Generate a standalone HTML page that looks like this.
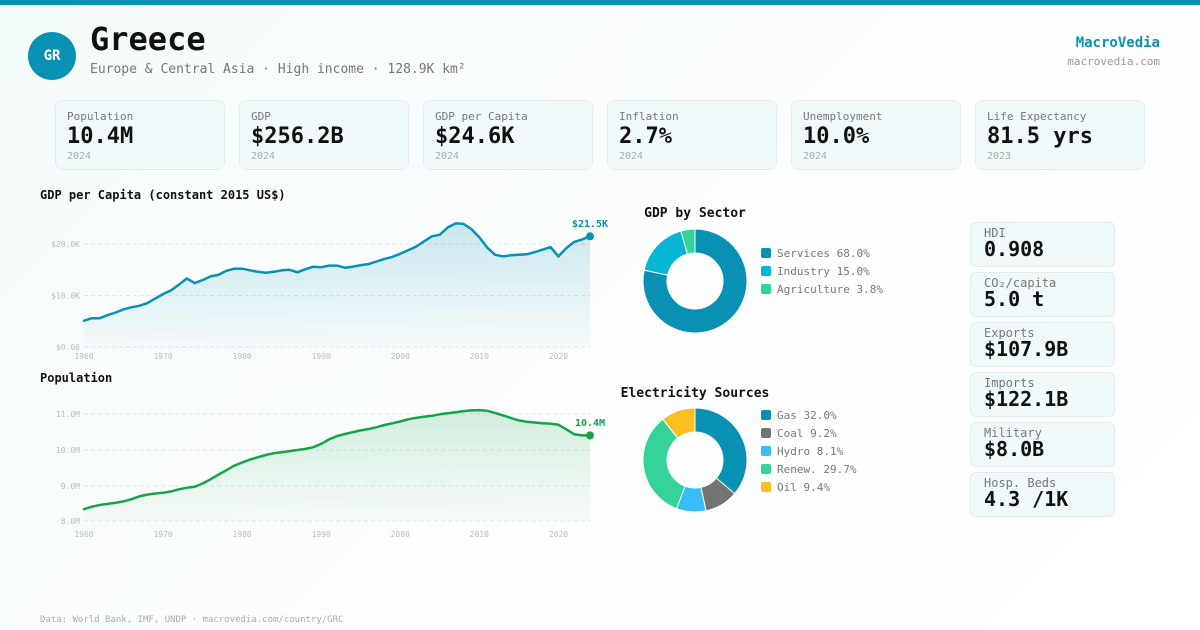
<!DOCTYPE html>
<html><head><meta charset="utf-8"><style>
*{margin:0;padding:0;box-sizing:border-box}
body{width:1200px;height:630px;overflow:hidden;font-family:"DejaVu Sans Mono","Liberation Mono",monospace;background:linear-gradient(135deg,#f4fbfb 0%,#fbfdfd 45%,#ffffff 100%);position:relative}
.bar{position:absolute;left:0;top:0;width:1200px;height:5px;background:#0891b2}
.abs{position:absolute;white-space:nowrap}
.logo{position:absolute;left:28px;top:32px;width:48px;height:48px;border-radius:50%;background:#0891b2;color:#fff;font-weight:bold;font-size:14px;line-height:48px;text-align:center}
.card{position:absolute;top:100px;width:170px;height:70px;background:#f0fafa;border:1px solid #e2eeee;border-radius:8px}
.card .l{position:absolute;left:11px;top:10px;font-size:11px;line-height:11px;color:#777}
.card .v{position:absolute;left:11px;top:25px;font-size:22px;line-height:22px;font-weight:bold;color:#111}
.card .y{position:absolute;left:11px;top:51px;font-size:10px;line-height:10px;color:#aaa}
.rc{position:absolute;left:970px;width:145px;height:45px;background:#f0fafa;border:1px solid #e2eeee;border-radius:6px}
.rc .l{position:absolute;left:13px;top:4px;font-size:12px;line-height:12px;color:#777}
.rc .v{position:absolute;left:13px;top:16px;font-size:20px;line-height:20px;font-weight:bold;color:#111}
</style></head><body>
<div class="bar"></div>
<div class="logo">GR</div>
<div class="abs" style="left:90px;top:23px;font-size:32px;line-height:32px;font-weight:bold;color:#111">Greece</div>
<div class="abs" style="left:90px;top:63px;font-size:13px;line-height:13px;color:#777">Europe &amp; Central Asia · High income · 128.9K km²</div>
<div class="abs" style="right:40px;top:36px;font-size:14px;line-height:14px;font-weight:bold;color:#0891b2">MacroVedia</div>
<div class="abs" style="right:40px;top:56px;font-size:11px;line-height:11px;color:#999">macrovedia.com</div>

<div class="card" style="left:55px"><div class="l">Population</div><div class="v">10.4M</div><div class="y">2024</div></div>
<div class="card" style="left:239px"><div class="l">GDP</div><div class="v">$256.2B</div><div class="y">2024</div></div>
<div class="card" style="left:423px"><div class="l">GDP per Capita</div><div class="v">$24.6K</div><div class="y">2024</div></div>
<div class="card" style="left:607px"><div class="l">Inflation</div><div class="v">2.7%</div><div class="y">2024</div></div>
<div class="card" style="left:791px"><div class="l">Unemployment</div><div class="v">10.0%</div><div class="y">2024</div></div>
<div class="card" style="left:975px"><div class="l">Life Expectancy</div><div class="v">81.5 yrs</div><div class="y">2023</div></div>

<div class="rc" style="top:222px"><div class="l">HDI</div><div class="v">0.908</div></div>
<div class="rc" style="top:272px"><div class="l">CO₂/capita</div><div class="v">5.0 t</div></div>
<div class="rc" style="top:322px"><div class="l">Exports</div><div class="v">$107.9B</div></div>
<div class="rc" style="top:372px"><div class="l">Imports</div><div class="v">$122.1B</div></div>
<div class="rc" style="top:422px"><div class="l">Military</div><div class="v">$8.0B</div></div>
<div class="rc" style="top:472px"><div class="l">Hosp. Beds</div><div class="v">4.3 /1K</div></div>

<svg class="abs" style="left:0;top:0" width="1200" height="630" xmlns="http://www.w3.org/2000/svg" font-family="DejaVu Sans Mono, Liberation Mono, monospace">
<defs>
<linearGradient id="gb" x1="0" y1="0" x2="0" y2="1"><stop offset="0" stop-color="#0891b2" stop-opacity="0.2"/><stop offset="1" stop-color="#0891b2" stop-opacity="0.02"/></linearGradient>
<linearGradient id="gg" x1="0" y1="0" x2="0" y2="1"><stop offset="0" stop-color="#16a34a" stop-opacity="0.18"/><stop offset="1" stop-color="#16a34a" stop-opacity="0.02"/></linearGradient>
</defs>
<text x="40" y="199" font-size="12" font-weight="bold" fill="#111">GDP per Capita (constant 2015 US$)</text>
<g stroke="#e3e6e8" stroke-width="1" stroke-dasharray="4 3">
<line x1="84" y1="244" x2="590" y2="244"/><line x1="84" y1="295.5" x2="590" y2="295.5"/><line x1="84" y1="347" x2="590" y2="347"/>
</g>
<g font-size="8" fill="#bbb" text-anchor="end">
<text x="80" y="247">$20.0K</text><text x="80" y="298.5">$10.0K</text><text x="80" y="350">$0.00</text>
</g>
<g font-size="8" fill="#bbb" text-anchor="middle">
<text x="84" y="359">1960</text><text x="163.1" y="359">1970</text><text x="242.1" y="359">1980</text><text x="321.2" y="359">1990</text><text x="400.2" y="359">2000</text><text x="479.3" y="359">2010</text><text x="558.4" y="359">2020</text>
</g>
<path fill="url(#gb)" d="M84,347 L84,320.7 91.9,318.2 99.8,318.2 107.7,315.1 115.6,312.5 123.5,309.4 131.4,307.3 139.3,305.8 147.2,303.2 155.2,298.6 163.1,294 171,290.4 178.9,284.7 186.8,278.5 194.7,283.1 202.6,280.1 210.5,276.4 218.4,274.9 226.3,270.8 234.2,268.7 242.1,268.7 250,270.3 257.9,271.8 265.8,272.8 273.7,271.8 281.7,270.3 289.6,269.8 297.5,272.3 305.4,269.2 313.3,266.7 321.2,267.2 329.1,265.6 337,265.6 344.9,267.7 352.8,266.7 360.7,265.1 368.6,264.1 376.5,261.5 384.4,258.9 392.3,256.9 400.2,253.8 408.1,250.2 416.1,246.6 424,241.4 431.9,236.3 439.8,234.7 447.7,227.5 455.6,223.4 463.5,223.9 471.4,229.1 479.3,237.3 487.2,247.6 495.1,254.8 503,256.4 510.9,255.3 518.8,254.8 526.7,254.3 534.6,252.2 542.5,249.7 550.5,247.1 558.4,256.4 566.3,248.1 574.2,241.9 582.1,239.4 590,236.3 L590,347 Z"/>
<polyline fill="none" stroke="#0891b2" stroke-width="2.5" stroke-linejoin="round" stroke-linecap="round" points="84,320.7 91.9,318.2 99.8,318.2 107.7,315.1 115.6,312.5 123.5,309.4 131.4,307.3 139.3,305.8 147.2,303.2 155.2,298.6 163.1,294 171,290.4 178.9,284.7 186.8,278.5 194.7,283.1 202.6,280.1 210.5,276.4 218.4,274.9 226.3,270.8 234.2,268.7 242.1,268.7 250,270.3 257.9,271.8 265.8,272.8 273.7,271.8 281.7,270.3 289.6,269.8 297.5,272.3 305.4,269.2 313.3,266.7 321.2,267.2 329.1,265.6 337,265.6 344.9,267.7 352.8,266.7 360.7,265.1 368.6,264.1 376.5,261.5 384.4,258.9 392.3,256.9 400.2,253.8 408.1,250.2 416.1,246.6 424,241.4 431.9,236.3 439.8,234.7 447.7,227.5 455.6,223.4 463.5,223.9 471.4,229.1 479.3,237.3 487.2,247.6 495.1,254.8 503,256.4 510.9,255.3 518.8,254.8 526.7,254.3 534.6,252.2 542.5,249.7 550.5,247.1 558.4,256.4 566.3,248.1 574.2,241.9 582.1,239.4 590,236.3"/>
<circle cx="590" cy="236.3" r="4" fill="#0891b2"/>
<text x="590" y="227" font-size="10" font-weight="bold" fill="#0891b2" text-anchor="middle">$21.5K</text>

<text x="40" y="382" font-size="12" font-weight="bold" fill="#111">Population</text>
<g stroke="#e3e6e8" stroke-width="1" stroke-dasharray="4 3">
<line x1="84" y1="414" x2="590" y2="414"/><line x1="84" y1="450" x2="590" y2="450"/><line x1="84" y1="486" x2="590" y2="486"/><line x1="84" y1="521" x2="590" y2="521"/>
</g>
<g font-size="8" fill="#bbb" text-anchor="end">
<text x="80" y="417">11.0M</text><text x="80" y="453">10.0M</text><text x="80" y="489">9.0M</text><text x="80" y="524">8.0M</text>
</g>
<g font-size="8" fill="#bbb" text-anchor="middle">
<text x="84" y="537">1960</text><text x="163.1" y="537">1970</text><text x="242.1" y="537">1980</text><text x="321.2" y="537">1990</text><text x="400.2" y="537">2000</text><text x="479.3" y="537">2010</text><text x="558.4" y="537">2020</text>
</g>
<path fill="url(#gg)" d="M84,521 L84,509.2 91.9,506.7 99.8,505 107.7,503.9 115.6,502.8 123.5,501.4 131.4,499.2 139.3,496.4 147.2,494.6 155.2,493.5 163.1,492.8 171,491.4 178.9,489.3 186.8,487.8 194.7,486.8 202.6,483.5 210.5,479.3 218.4,474.6 226.3,470.3 234.2,465.7 242.1,462.5 250,459.6 257.9,457.2 265.8,455 273.7,453.2 281.7,452.2 289.6,451.1 297.5,450 305.4,448.9 313.3,447.2 321.2,443.9 329.1,439.3 337,436.1 344.9,434 352.8,432.2 360.7,430.4 368.6,429 376.5,427.2 384.4,425 392.3,423.3 400.2,421.5 408.1,419.3 416.1,417.9 424,416.8 431.9,415.8 439.8,414.3 447.7,413.3 455.6,412.2 463.5,411.1 471.4,410.4 479.3,410.1 487.2,410.8 495.1,412.9 503,415.4 510.9,417.9 518.8,420.4 526.7,421.8 534.6,422.5 542.5,423.3 550.5,423.6 558.4,424.7 566.3,429.3 574.2,434.3 582.1,435.4 590,435.4 L590,521 Z"/>
<polyline fill="none" stroke="#16a34a" stroke-width="2.5" stroke-linejoin="round" stroke-linecap="round" points="84,509.2 91.9,506.7 99.8,505 107.7,503.9 115.6,502.8 123.5,501.4 131.4,499.2 139.3,496.4 147.2,494.6 155.2,493.5 163.1,492.8 171,491.4 178.9,489.3 186.8,487.8 194.7,486.8 202.6,483.5 210.5,479.3 218.4,474.6 226.3,470.3 234.2,465.7 242.1,462.5 250,459.6 257.9,457.2 265.8,455 273.7,453.2 281.7,452.2 289.6,451.1 297.5,450 305.4,448.9 313.3,447.2 321.2,443.9 329.1,439.3 337,436.1 344.9,434 352.8,432.2 360.7,430.4 368.6,429 376.5,427.2 384.4,425 392.3,423.3 400.2,421.5 408.1,419.3 416.1,417.9 424,416.8 431.9,415.8 439.8,414.3 447.7,413.3 455.6,412.2 463.5,411.1 471.4,410.4 479.3,410.1 487.2,410.8 495.1,412.9 503,415.4 510.9,417.9 518.8,420.4 526.7,421.8 534.6,422.5 542.5,423.3 550.5,423.6 558.4,424.7 566.3,429.3 574.2,434.3 582.1,435.4 590,435.4"/>
<circle cx="590" cy="435.4" r="4" fill="#16a34a"/>
<text x="590" y="426" font-size="10" font-weight="bold" fill="#16a34a" text-anchor="middle">10.4M</text>

<text x="695" y="217" font-size="13" font-weight="bold" fill="#111" text-anchor="middle">GDP by Sector</text>
<g stroke="#fff" stroke-width="1">
<path fill="#0891b2" d="M695,229 A52,52 0 1 1 644.14,270.16 L667.62,275.16 A28,28 0 1 0 695,253 Z"/>
<path fill="#06b6d4" d="M644.14,270.16 A52,52 0 0 1 680.88,230.96 L687.4,254.05 A28,28 0 0 0 667.62,275.16 Z"/>
<path fill="#34d399" d="M680.88,230.96 A52,52 0 0 1 695,229 L695,253 A28,28 0 0 0 687.4,254.05 Z"/>
</g>
<g font-size="11" fill="#777">
<rect x="761" y="248" width="10" height="10" rx="2" fill="#0891b2"/><text x="777" y="257">Services 68.0%</text>
<rect x="761" y="266" width="10" height="10" rx="2" fill="#06b6d4"/><text x="777" y="275">Industry 15.0%</text>
<rect x="761" y="284" width="10" height="10" rx="2" fill="#34d399"/><text x="777" y="293">Agriculture 3.8%</text>
</g>

<text x="695" y="397" font-size="13" font-weight="bold" fill="#111" text-anchor="middle">Electricity Sources</text>
<g stroke="#fff" stroke-width="1">
<path fill="#0891b2" d="M695,408 A52,52 0 0 1 734.65,493.64 L716.35,478.12 A28,28 0 0 0 695,432 Z"/>
<path fill="#737373" d="M734.65,493.64 A52,52 0 0 1 706.01,510.82 L700.93,487.36 A28,28 0 0 0 716.35,478.12 Z"/>
<path fill="#38bdf8" d="M706.01,510.82 A52,52 0 0 1 676.56,508.62 L685.07,486.18 A28,28 0 0 0 700.93,487.36 Z"/>
<path fill="#34d399" d="M676.56,508.62 A52,52 0 0 1 662.79,419.18 L677.65,438.02 A28,28 0 0 0 685.07,486.18 Z"/>
<path fill="#fbbf24" d="M662.79,419.18 A52,52 0 0 1 695,408 L695,432 A28,28 0 0 0 677.65,438.02 Z"/>
</g>
<g font-size="11" fill="#777">
<rect x="761" y="410" width="10" height="10" rx="2" fill="#0891b2"/><text x="777" y="419">Gas 32.0%</text>
<rect x="761" y="428" width="10" height="10" rx="2" fill="#737373"/><text x="777" y="437">Coal 9.2%</text>
<rect x="761" y="446" width="10" height="10" rx="2" fill="#38bdf8"/><text x="777" y="455">Hydro 8.1%</text>
<rect x="761" y="464" width="10" height="10" rx="2" fill="#34d399"/><text x="777" y="473">Renew. 29.7%</text>
<rect x="761" y="482" width="10" height="10" rx="2" fill="#fbbf24"/><text x="777" y="491">Oil 9.4%</text>
</g>

<text x="40" y="622" font-size="9" fill="#aaa">Data: World Bank, IMF, UNDP · macrovedia.com/country/GRC</text>
</svg>
</body></html>
